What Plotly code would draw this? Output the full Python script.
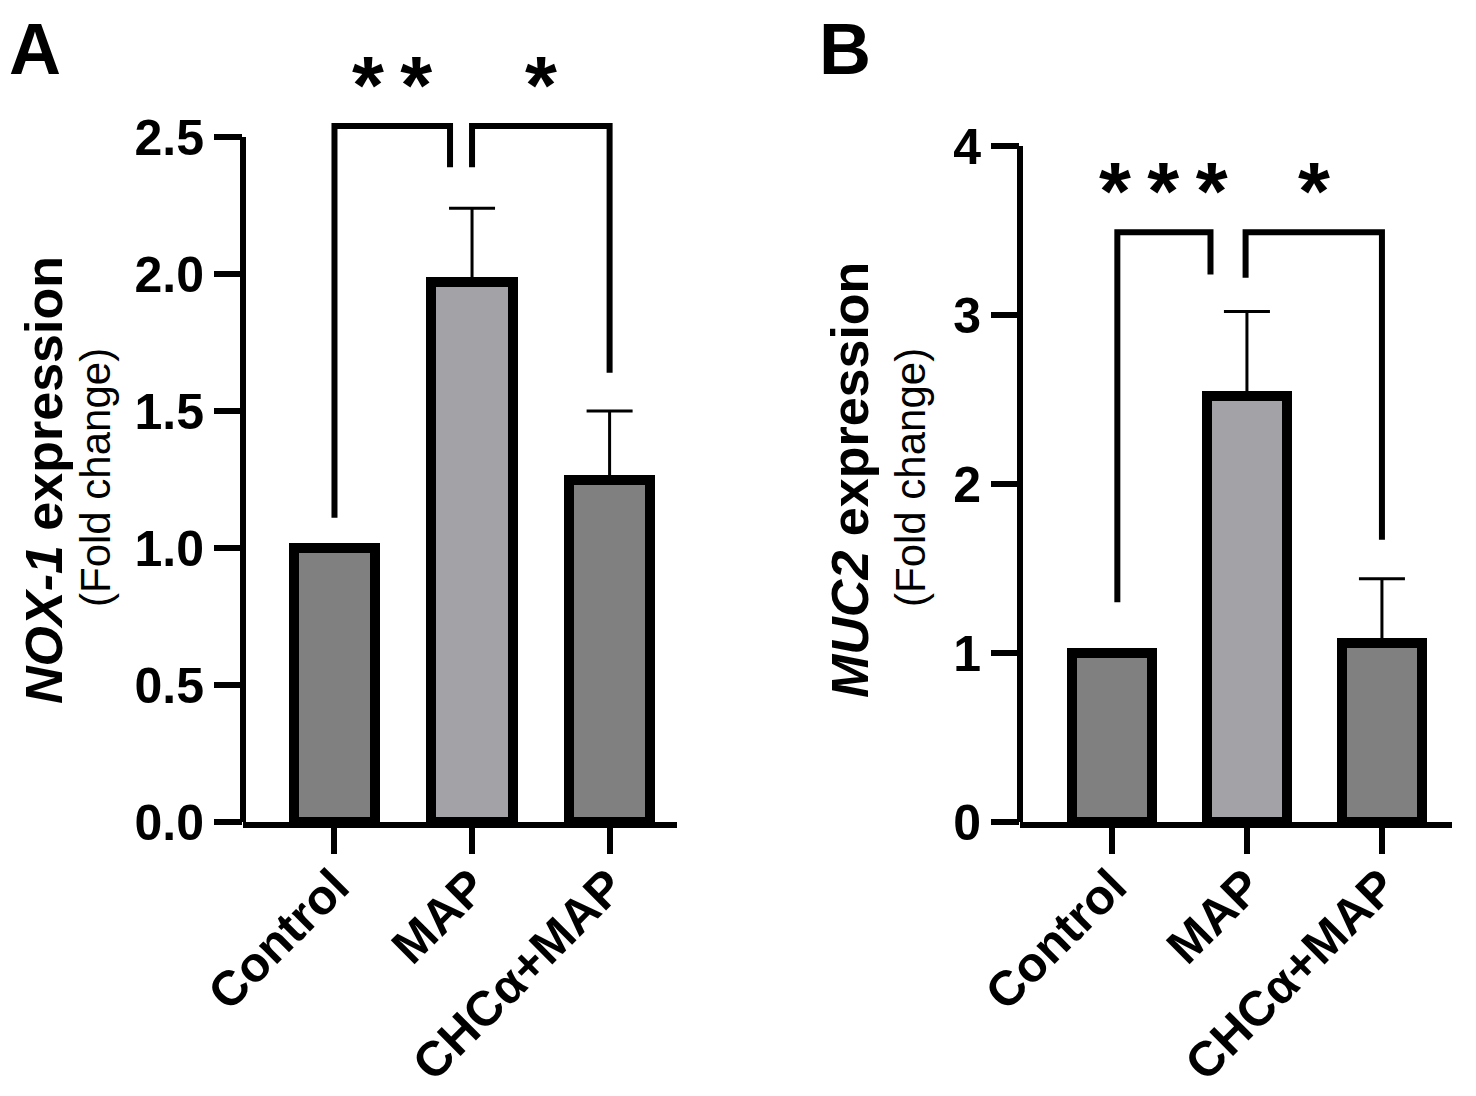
import plotly.graph_objects as go

# Data
groups = ["Control", "MAP", "CHCα+MAP"]
nox1_mean = [1.0, 1.97, 1.25]
nox1_err = [0.0, 0.27, 0.25]
muc2_mean = [1.0, 2.52, 1.06]
muc2_err = [0.01, 0.50, 0.38]

bar_colors = ["#808080", "#a3a2a7", "#808080"]

# significance brackets: (x_left, x_right, y_left_end, y_right_end, y_top, label)
nox1_brackets = [
    (0.0, 0.84, 1.11, 2.39, 2.54, "*\u2009*"),
    (1.0, 2.0, 2.39, 1.64, 2.54, "*"),
]
muc2_brackets = [
    (0.04, 0.73, 1.30, 3.24, 3.49, "*\u2009*\u2009*"),
    (0.99, 2.0, 3.22, 1.67, 3.49, "*"),
]

FONT = "Liberation Sans, Arial, sans-serif"

# the page puts the figure 8px in from the top-left corner
W, H, OFF = 1468, 1088, 8


def px(x):
    return (x - OFF) / W


def py(y):
    return 1 - (y - OFF) / H


fig = go.Figure()

panels = [
    ("x", "y", nox1_mean, nox1_err, nox1_brackets),
    ("x2", "y2", muc2_mean, muc2_err, muc2_brackets),
]

for xa, ya, mean, err, brackets in panels:
    fig.add_trace(go.Bar(
        x=[0, 1, 2], y=mean, width=0.59,
        marker=dict(color=bar_colors, line=dict(color="black", width=10)),
        error_y=dict(type="data", array=err, arrayminus=[0, 0, 0], symmetric=False,
                     thickness=3, width=23, color="black"),
        xaxis=xa, yaxis=ya, showlegend=False,
    ))
    for x0, x1, yl, yr, yt, label in brackets:
        fig.add_trace(go.Scatter(
            x=[x0, x0, x1, x1], y=[yl, yt, yt, yr], mode="lines",
            line=dict(color="black", width=6), xaxis=xa, yaxis=ya,
            showlegend=False, hoverinfo="skip",
        ))
        fig.add_annotation(
            x=(x0 + x1) / 2, y=yt, xref=xa, yref=ya, text="<b>" + label + "</b>",
            showarrow=False, yanchor="bottom", yshift=-6,
            font=dict(family=FONT, size=82, color="black"),
        )

tick_text = ["<b>" + g + "</b>" for g in groups]

xcommon = dict(tickvals=[0, 1, 2], ticktext=tick_text, tickangle=-45,
               showline=True, linewidth=6, linecolor="black",
               ticks="outside", ticklen=26, tickwidth=6, tickcolor="black",
               ticklabelstandoff=-16,
               showgrid=False, zeroline=False, automargin=False,
               tickfont=dict(family=FONT, size=49, color="black"))
ycommon = dict(showline=False, ticks="outside", ticklen=28, tickwidth=6,
               tickcolor="black", showgrid=False, zeroline=False, automargin=False,
               tickfont=dict(family=FONT, size=50, color="black"))

fig.update_layout(
    width=W, height=H,
    margin=dict(l=0, r=0, t=0, b=0, pad=0),
    plot_bgcolor="white", paper_bgcolor="white",
    bargap=0,
    xaxis=dict(domain=[px(243), px(677)], range=[-0.665, 2.49], anchor="y", **xcommon),
    yaxis=dict(domain=[py(822), 1.0], range=[0, (822 - OFF) / 274], anchor="x",
               tickvals=[0, 0.5, 1, 1.5, 2, 2.5],
               ticktext=["<b>0.0</b>", "<b>0.5</b>", "<b>1.0</b>", "<b>1.5</b>", "<b>2.0</b>", "<b>2.5</b>"],
               **ycommon),
    xaxis2=dict(domain=[px(1020), px(1452)], range=[-0.681, 2.519], anchor="y2", **xcommon),
    yaxis2=dict(domain=[py(822), 1.0], range=[0, (822 - OFF) / 169], anchor="x2",
                tickvals=[0, 1, 2, 3, 4],
                ticktext=["<b>0</b>", "<b>1</b>", "<b>2</b>", "<b>3</b>", "<b>4</b>"],
                **ycommon),
)

# y-axis lines only up to the last tick
fig.add_shape(type="line", xref="x domain", yref="y", x0=0, x1=0, y0=-0.012, y1=2.5,
              line=dict(color="black", width=6))
fig.add_shape(type="line", xref="x2 domain", yref="y2", x0=0, x1=0, y0=-0.018, y1=4,
              line=dict(color="black", width=6))

# y titles
for xmain, xsub, main in [(44, 95, "<b><i>NOX-1</i> expression</b>"),
                          (850, 910, "<b><i>MUC2</i> expression</b>")]:
    fig.add_annotation(x=px(xmain), y=py(480), xref="paper", yref="paper",
                       text=main, textangle=-90, showarrow=False,
                       xanchor="center", yanchor="middle",
                       font=dict(family=FONT, size=52, color="black"))
    fig.add_annotation(x=px(xsub), y=py(478), xref="paper", yref="paper",
                       text="(Fold change)", textangle=-90, showarrow=False,
                       xanchor="center", yanchor="middle",
                       font=dict(family=FONT, size=42, color="black"))

# panel letters
for xpix, letter in [(8, "A"), (818, "B")]:
    fig.add_annotation(x=px(xpix), y=1.0, xref="paper", yref="paper",
                       text="<b>" + letter + "</b>", showarrow=False,
                       xanchor="left", yanchor="top", borderpad=0,
                       font=dict(family=FONT, size=72, color="black"))

fig.write_html("out.html")
